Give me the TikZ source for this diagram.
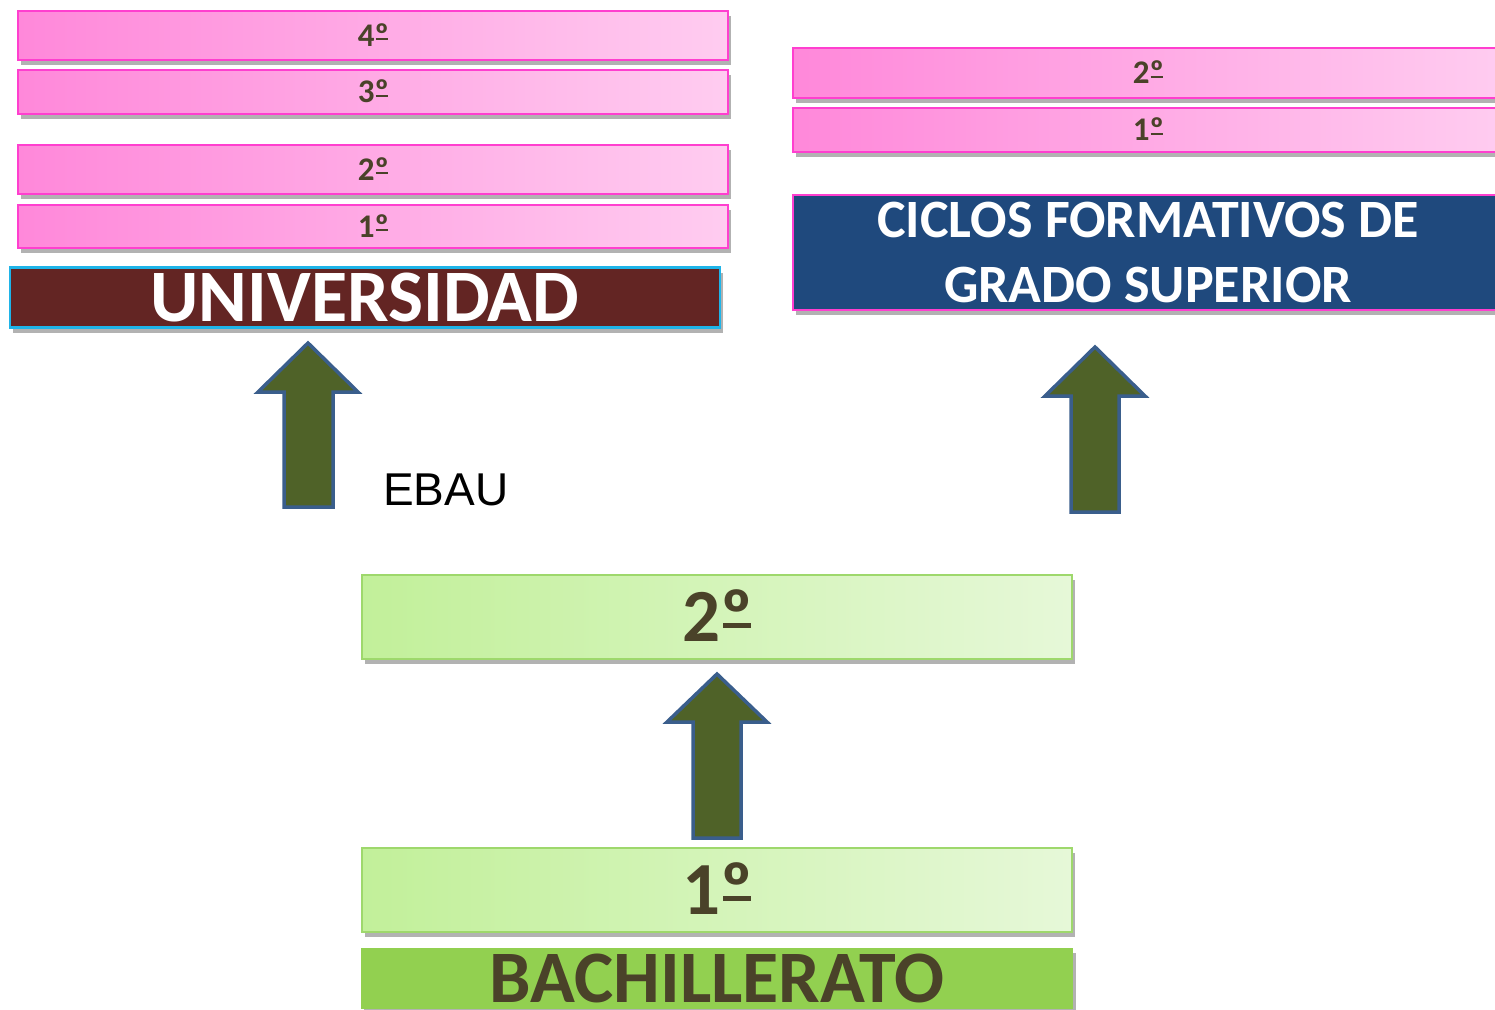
\documentclass[tikz,border=0pt]{standalone}
\usepackage{fontspec}
\setmainfont{Carlito}
\newfontfamily\arialf{Liberation Sans}
\usetikzlibrary{shadows}

\definecolor{pinkA}{HTML}{FF88DA}
\definecolor{pinkB}{HTML}{FFCCF0}
\definecolor{pinkLine}{HTML}{FF3FCF}
\definecolor{greenA}{HTML}{C2F09A}
\definecolor{greenB}{HTML}{E6F8D8}
\definecolor{greenLine}{HTML}{9ED86C}
\definecolor{bachFill}{HTML}{92D050}
\definecolor{uniFill}{HTML}{632523}
\definecolor{uniLine}{HTML}{1FB4E8}
\definecolor{cicFill}{HTML}{1F497D}
\definecolor{txtDark}{HTML}{4A4229}
\definecolor{arrFill}{HTML}{4F6228}
\definecolor{arrLine}{HTML}{3A5E8C}

% masculine ordinal with underline bar (Calibri style)
\newcommand\ordo{\sbox0{º}\makebox[0pt][l]{\usebox0}\hspace{0.03em}\raisebox{0.173em}{\rule{\dimexpr\wd0-0.06em\relax}{0.067em}}\hspace{0.03em}}

\begin{document}
\begin{tikzpicture}[x=1pt,y=-1pt,
  boxshadow/.style={drop shadow={shadow xshift=3pt,shadow yshift=-5pt,opacity=0.3,fill=black}},
  yearbox/.style={inner sep=0pt, minimum width=710pt, text=txtDark, text depth=0pt, boxshadow},
  pinkbox/.style={yearbox, draw=pinkLine, line width=2pt, left color=pinkA, right color=pinkB,
    font=\bfseries\fontsize{33}{36}\selectfont, text height=21pt},
  greenbox/.style={yearbox, draw=greenLine, line width=2pt, left color=greenA, right color=greenB,
    font=\bfseries\fontsize{75}{80}\selectfont, text height=48pt, minimum height=84pt},
  titlebox/.style={inner sep=0pt, text=white, text depth=0pt, boxshadow},
  blockarrow/.style={draw=arrLine, fill=arrFill, line width=3.5pt, line join=miter}
]
\clip (0,0) rectangle (1495,1009);

% Universidad
\node[pinkbox, minimum height=49pt] (u4) at (373,35.5) {4\ordo};
\node[pinkbox, minimum height=44pt] (u3) at (373,92) {3\ordo};
\node[pinkbox, minimum height=49pt] (u2) at (373,169.5) {2\ordo};
\node[pinkbox, minimum height=43pt] (u1) at (373,226.5) {1\ordo};
\node[titlebox, draw=uniLine, line width=2.5pt, fill=uniFill, minimum width=710pt, minimum height=60pt,
  font=\bfseries\fontsize{74}{80}\selectfont, text height=47.5pt] (uni) at (365,297.5) {UNIVERSIDAD};

% Ciclos formativos
\node[pinkbox, minimum height=50pt] (c2) at (1148,73) {2\ordo};
\node[pinkbox, minimum height=44pt] (c1) at (1148,130) {1\ordo};
\node[titlebox, draw=pinkLine, line width=2pt, fill=cicFill, minimum width=710pt, minimum height=115pt,
  align=center, font=\bfseries\fontsize{54}{65}\selectfont] (cic) at (1148,252.5)
  {CICLOS FORMATIVOS DE\\GRADO SUPERIOR};

% Bachillerato
\node[greenbox] (b2) at (717,617) {2\ordo};
\node[greenbox] (b1) at (717,890) {1\ordo};
\node[titlebox, fill=bachFill, minimum width=712pt, minimum height=61pt, text=txtDark,
  font=\bfseries\fontsize{74}{80}\selectfont, text height=47pt] (bach) at (717,978.5) {BACHILLERATO};

% EBAU label
\node[font=\arialf\fontsize{46}{50}\selectfont, anchor=base west, inner sep=0pt] (ebau) at (383,505) {EBAU};

% Block arrows
\draw[blockarrow] (308,343) -- (358,392) -- (333,392) -- (333,507) -- (284,507) -- (284,392) -- (258,392) -- cycle;
\draw[blockarrow] (1095,347) -- (1145,396) -- (1119,396) -- (1119,512) -- (1071,512) -- (1071,396) -- (1045,396) -- cycle;
\draw[blockarrow] (717,674) -- (767,722) -- (741,722) -- (741,838) -- (693,838) -- (693,722) -- (667,722) -- cycle;
\end{tikzpicture}
\end{document}
